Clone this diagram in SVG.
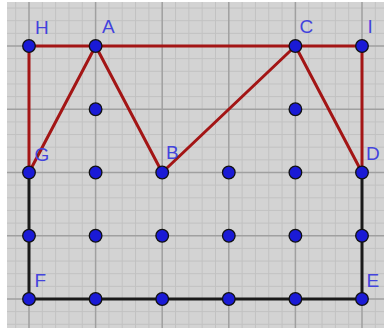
<svg xmlns="http://www.w3.org/2000/svg" width="384" height="328" viewBox="0 0 384 328">
<style>
.minor{stroke:#c2c2c2;stroke-width:1;fill:none}
.major{stroke:#a0a0a0;stroke-width:1.5;fill:none}
.red{stroke:#a31515;stroke-width:3;stroke-linecap:round;fill:none}
.blk{stroke:#1a1a1a;stroke-width:3;stroke-linecap:round;fill:none}
.pt{fill:#1a1ad6;stroke:#111;stroke-width:1.3}
.lbl{font-family:"Liberation Sans",Arial,sans-serif;font-size:19px;fill:#4343dd}
</style>
<rect width="384" height="328" fill="#ffffff"/>
<rect x="7" y="2" width="377" height="326" fill="#d3d3d3"/>
<g id="grid">
<path class="minor" d="M15.68 2V328M42.32 2V328M55.64 2V328M68.96 2V328M82.28 2V328M108.92 2V328M122.24 2V328M135.56 2V328M148.88 2V328M175.52 2V328M188.84 2V328M202.16 2V328M215.48 2V328M242.12 2V328M255.44 2V328M268.76 2V328M282.08 2V328M308.72 2V328M322.04 2V328M335.36 2V328M348.68 2V328M375.32 2V328"/>
<path class="minor" d="M7 8.05H384M7 20.7H384M7 33.35H384M7 58.65H384M7 71.3H384M7 83.95H384M7 96.6H384M7 121.9H384M7 134.55H384M7 147.2H384M7 159.85H384M7 185.15H384M7 197.8H384M7 210.45H384M7 223.1H384M7 248.4H384M7 261.05H384M7 273.7H384M7 286.35H384M7 311.65H384M7 324.3H384"/>
<path class="major" d="M29 2V328M95.6 2V328M162.2 2V328M228.8 2V328M295.4 2V328M362 2V328M7 46H384M7 109.25H384M7 172.5H384M7 235.75H384M7 299H384"/>
</g>
<g id="connectors">
<path class="red" d="M29 46H362"/>
<path class="red" d="M29 46V172.5"/>
<path class="red" d="M95.6 46L29 172.5"/>
<path class="red" d="M95.6 46L162.2 172.5"/>
<path class="red" d="M162.2 172.5L295.4 46"/>
<path class="red" d="M295.4 46L362 172.5"/>
<path class="red" d="M362 46V172.5"/>
<path class="blk" d="M29 172.5V299H362V172.5"/>
</g>
<g id="H"><circle class="pt" cx="29" cy="46" r="6.3"/><text class="lbl" x="35" y="34">H</text></g>
<g id="A"><circle class="pt" cx="95.6" cy="46" r="6.3"/><text class="lbl" x="102" y="33">A</text></g>
<g id="C"><circle class="pt" cx="295.4" cy="46" r="6.3"/><text class="lbl" x="299.5" y="33">C</text></g>
<g id="I"><circle class="pt" cx="362" cy="46" r="6.3"/><text class="lbl" x="367.5" y="33">I</text></g>
<g id="G"><circle class="pt" cx="29" cy="172.5" r="6.3"/><text class="lbl" x="34.5" y="160.5">G</text></g>
<g id="B"><circle class="pt" cx="162.2" cy="172.5" r="6.3"/><text class="lbl" x="166" y="158.5">B</text></g>
<g id="D"><circle class="pt" cx="362" cy="172.5" r="6.3"/><text class="lbl" x="366" y="160">D</text></g>
<g id="F"><circle class="pt" cx="29" cy="299" r="6.3"/><text class="lbl" x="34.5" y="287">F</text></g>
<g id="E"><circle class="pt" cx="362" cy="299" r="6.3"/><text class="lbl" x="366.5" y="287">E</text></g>
<g id="points">
<circle class="pt" cx="95.6" cy="109.25" r="6.3"/>
<circle class="pt" cx="295.4" cy="109.25" r="6.3"/>
<circle class="pt" cx="95.6" cy="172.5" r="6.3"/>
<circle class="pt" cx="228.8" cy="172.5" r="6.3"/>
<circle class="pt" cx="295.4" cy="172.5" r="6.3"/>
<circle class="pt" cx="29" cy="235.75" r="6.3"/>
<circle class="pt" cx="95.6" cy="235.75" r="6.3"/>
<circle class="pt" cx="162.2" cy="235.75" r="6.3"/>
<circle class="pt" cx="228.8" cy="235.75" r="6.3"/>
<circle class="pt" cx="295.4" cy="235.75" r="6.3"/>
<circle class="pt" cx="362" cy="235.75" r="6.3"/>
<circle class="pt" cx="95.6" cy="299" r="6.3"/>
<circle class="pt" cx="162.2" cy="299" r="6.3"/>
<circle class="pt" cx="228.8" cy="299" r="6.3"/>
<circle class="pt" cx="295.4" cy="299" r="6.3"/>
</g>
</svg>
